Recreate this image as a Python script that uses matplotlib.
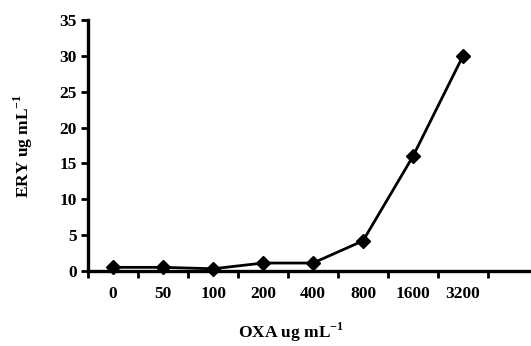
import matplotlib
matplotlib.use("Agg")
import matplotlib.pyplot as plt

# OXA concentration categories and ERY response
oxa_labels = ["0", "50", "100", "200", "400", "800", "1600", "3200"]
ery_values = [0.5, 0.5, 0.3, 1.1, 1.1, 4.2, 16.0, 30.0]

plt.rcParams["font.family"] = ["Liberation Serif", "DejaVu Serif"]
plt.rcParams["font.weight"] = "bold"
plt.rcParams["mathtext.fontset"] = "custom"
plt.rcParams["mathtext.rm"] = "Liberation Serif:bold"
plt.rcParams["mathtext.bf"] = "Liberation Serif:bold"

fig = plt.figure(figsize=(5.31, 3.46), dpi=100)
ax = fig.add_axes([0.166, 0.217, 0.832, 0.725])

x = list(range(len(oxa_labels)))
ax.plot(x, ery_values, color="black", lw=2, marker="D", ms=7,
        markerfacecolor="black", markeredgecolor="black", clip_on=False)

ax.set_xlim(-0.5, 8.34)
ax.set_ylim(0, 35)
ax.set_yticks(range(0, 36, 5))
ax.set_xticks(x)
ax.set_xticklabels(oxa_labels)
ax.set_xticks([i - 0.5 for i in range(9)], minor=True)

for s in ["top", "right"]:
    ax.spines[s].set_visible(False)
for s in ["left", "bottom"]:
    ax.spines[s].set_linewidth(2.4)

ax.tick_params(axis="x", which="major", length=0, pad=11, labelsize=12.5)
ax.tick_params(axis="x", which="minor", length=5, width=2, direction="out")
ax.tick_params(axis="y", length=5, width=2, direction="out", labelsize=12.5, pad=3)
for lab in ax.get_xticklabels() + ax.get_yticklabels():
    lab.set_fontweight("bold")

ax.set_xlabel(r"OXA ug mL$^{-1}$", fontsize=12.5, fontweight="bold")
ax.xaxis.set_label_coords(0.46, -0.2)
ax.set_ylabel(r"ERY ug mL$^{-1}$", fontsize=12.5, fontweight="bold", labelpad=18)

fig.savefig("out.png", dpi=100)
